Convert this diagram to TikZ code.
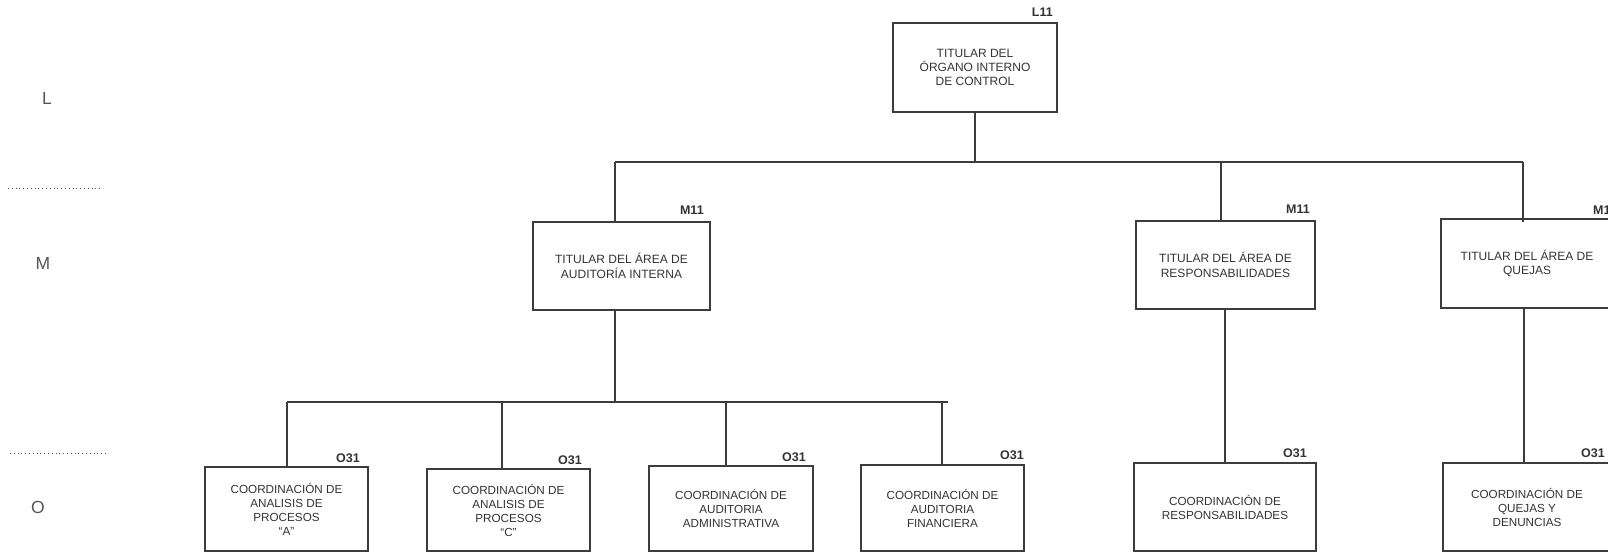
\documentclass[tikz,border=0pt]{standalone}
\usepackage{fontspec}
\setmainfont{Liberation Sans}
\definecolor{linecol}{HTML}{3C3C3C}
\definecolor{txtcol}{HTML}{333333}
\definecolor{lvlcol}{HTML}{555555}
\begin{document}
\begin{tikzpicture}[x=1pt,y=-1pt,
  conn/.style={draw=linecol, line width=1.6pt},
  box/.style={draw=linecol, line width=1.8pt, rectangle, inner sep=0pt, align=center, text=txtcol,
    font=\fontsize{12}{14.4}\selectfont},
  obox/.style={box, font=\fontsize{11.7}{14}\selectfont},
  code/.style={anchor=south east, inner sep=0pt, text=txtcol, font=\fontsize{12.5}{14}\selectfont\bfseries},
  lvl/.style={inner sep=0pt, text=lvlcol, font=\fontsize{17.5}{20}\selectfont},
  sep/.style={draw=lvlcol, line width=1pt, dash pattern=on 0.9pt off 2.9pt}]
\useasboundingbox (0,0) rectangle (1608,552);

% level labels
\node[lvl] (lvL) at (47,98) {L};
\node[lvl] (lvM) at (43,263) {M};
\node[lvl] (lvO) at (38,507) {O};
\coordinate (s1a) at (8,188);
\coordinate (s1b) at (103,188);
\coordinate (s2a) at (10,453);
\coordinate (s2b) at (107,453);
\draw[sep] (s1a) -- (s1b);
\draw[sep] (s2a) -- (s2b);

% boxes
\node[box, minimum width=164pt, minimum height=89pt] (l) at (975,67.5)
  {TITULAR DEL\\ÓRGANO INTERNO\\DE CONTROL};
\node[box, minimum width=177pt, minimum height=88pt] (m1) at (621.5,266)
  {TITULAR DEL ÁREA DE\\AUDITORÍA INTERNA};
\node[box, minimum width=179pt, minimum height=88pt] (m2) at (1225.5,265)
  {TITULAR DEL ÁREA DE\\RESPONSABILIDADES};
\node[box, minimum width=172pt, minimum height=89pt] (m3) at (1527,263.5)
  {TITULAR DEL ÁREA DE\\QUEJAS};

\node[obox, minimum width=163pt, minimum height=84pt] (o1) at (286.5,509)
  {COORDINACIÓN DE\\ANALISIS DE\\PROCESOS\\“A”};
\node[obox, minimum width=163pt, minimum height=82pt] (o2) at (508.5,510)
  {COORDINACIÓN DE\\ANALISIS DE\\PROCESOS\\“C”};
\node[obox, minimum width=164pt, minimum height=85pt] (o3) at (731,508.5)
  {COORDINACIÓN DE\\AUDITORIA\\ADMINISTRATIVA};
\node[obox, minimum width=163pt, minimum height=86pt] (o4) at (942.5,508)
  {COORDINACIÓN DE\\AUDITORIA\\FINANCIERA};
\node[obox, minimum width=182pt, minimum height=88pt] (o5) at (1225,507)
  {COORDINACIÓN DE\\RESPONSABILIDADES};
\node[obox, minimum width=168pt, minimum height=88pt] (o6) at (1527,507)
  {COORDINACIÓN DE\\QUEJAS Y\\DENUNCIAS};

% codes
\node[code] (kl)  at ([xshift=-5pt,yshift=5pt]l.north east) {L11};
\node[code] (km1) at ([xshift=-7pt,yshift=6pt]m1.north east) {M11};
\node[code] (km2) at ([xshift=-6pt,yshift=6pt]m2.north east) {M11};
\node[code] (km3) at ([xshift=3pt,yshift=3pt]m3.north east) {M11};
\node[code] (ko1) at ([xshift=-9pt,yshift=3pt]o1.north east) {O31};
\node[code] (ko2) at ([xshift=-9pt,yshift=3pt]o2.north east) {O31};
\node[code] (ko3) at ([xshift=-8pt,yshift=3pt]o3.north east) {O31};
\node[code] (ko4) at ([xshift=-1pt,yshift=4pt]o4.north east) {O31};
\node[code] (ko5) at ([xshift=-10pt,yshift=4pt]o5.north east) {O31};
\node[code] (ko6) at ([xshift=-7pt,yshift=4pt]o6.north east) {O31};

% top bus
\coordinate (b0) at (615,162);
\coordinate (b1) at (975,162);
\coordinate (b2) at (1221,162);
\coordinate (b3) at (1523,162);
\draw[conn] (l.south) -- (b1);
\draw[conn] (b0) -- (b3);
\draw[conn] (b0) -- (b0 |- m1.north);
\draw[conn] (b2) -- (b2 |- m2.north);
\draw[conn] (b3) -- ([yshift=-4pt]b3 |- m3.north);

% lower bus
\coordinate (cm) at (615,402);
\coordinate (c1) at (287,402);
\coordinate (c2) at (502,402);
\coordinate (c3) at (726,402);
\coordinate (c4) at (942,402);
\coordinate (ce) at (948,402);
\draw[conn] (cm |- m1.south) -- (cm);
\draw[conn] (c1) -- (ce);
\draw[conn] (c1) -- (c1 |- o1.north);
\draw[conn] (c2) -- (c2 |- o2.north);
\draw[conn] (c3) -- (c3 |- o3.north);
\draw[conn] (c4) -- (c4 |- o4.north);

% right columns
\draw[conn] (o5.north |- m2.south) -- (o5.north);
\coordinate (qx) at (1524,400);
\draw[conn] (qx |- m3.south) -- (qx |- o6.north);
\end{tikzpicture}
\end{document}
